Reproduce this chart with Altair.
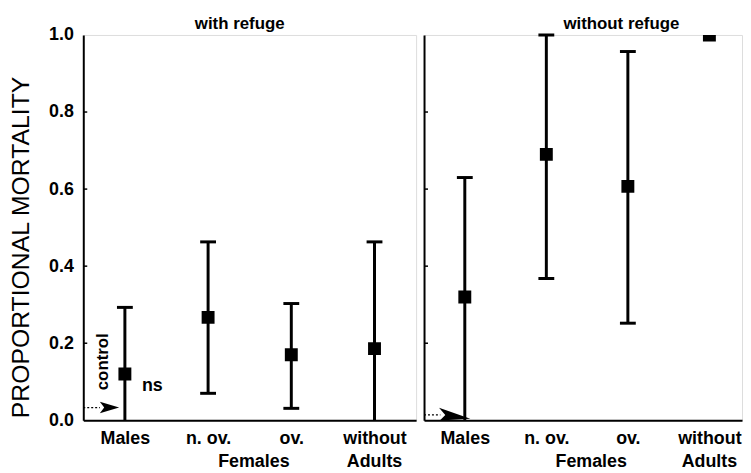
import altair as alt
import pandas as pd

categories = ["Males", "n. ov.", "ov.", "without"]
cat_pos = [0.5, 1.5, 2.5, 3.5]
sub_labels = ["Females", "Adults"]
sub_pos = [2.05, 3.5]
y_ticks = [0.0, 0.2, 0.4, 0.6, 0.8, 1.0]
panel_titles = ["with refuge", "without refuge"]
panel_title_pos = [1.88, 2.42]

with_mean = [0.12, 0.267, 0.17, 0.186]
with_low = [0.0, 0.07, 0.031, 0.0]
with_high = [0.293, 0.463, 0.303, 0.463]

without_mean = [0.32, 0.69, 0.607, 1.0]
without_low = [0.0, 0.368, 0.252, 1.0]
without_high = [0.63, 1.0, 0.957, 1.0]

FONT = "Liberation Sans"
ARROW_L = "M-1,-0.6L1,0L-1,0.6L-0.55,0Z"
ARROW_R = "M-1,-0.45L1,0.25L-0.95,0.35L-0.6,0Z"

label_expr = " : ".join(
    f"datum.value == {p} ? '{c}'" for p, c in zip(cat_pos, categories)
) + " : ''"

HEIGHT = 389


def panel(idx, means, lows, highs, width, xmax, left,
          ctrl_x, ctrl_y, ctrl_end, arrow_shape, arrow_size):
    df = pd.DataFrame({"pos": cat_pos, "cat": categories,
                       "mean": means, "low": lows, "high": highs})
    caps = pd.DataFrame(
        [{"pos": p, "v": h} for p, m, h in zip(cat_pos, means, highs) if h > m]
        + [{"pos": p, "v": l} for p, m, l in zip(cat_pos, means, lows) if 0 < l < m]
    )
    xs = alt.Scale(domain=[0, xmax], nice=False, zero=False)
    ys = alt.Scale(domain=[0, 1], nice=False)
    xaxis = alt.Axis(values=cat_pos, labelExpr=label_expr, title=None,
                     ticks=False, tickSize=0, grid=False, labelPadding=9,
                     labelFontSize=18, labelFontWeight="bold", labelFont=FONT,
                     labelColor="black", domainColor="black", domainWidth=2,
                     labelOverlap=False)
    if left:
        yaxis = alt.Axis(values=y_ticks, format=".1f",
                         title="PROPORTIONAL MORTALITY", grid=False,
                         ticks=False, tickSize=0,
                         labelPadding=10, labelFontSize=18, labelFontWeight="bold",
                         labelFont=FONT, labelColor="black",
                         titleFont=FONT, titleFontSize=25, titleFontWeight="normal",
                         titleColor="black", titlePadding=15, titleY=214,
                         domainColor="black", domainWidth=2)
    else:
        yaxis = alt.Axis(values=y_ticks, labels=False, title=None, grid=False,
                         ticks=False, tickSize=0,
                         domainColor="black", domainWidth=2)

    base = alt.Chart(df)
    bars = base.mark_rule(strokeWidth=3, color="black").encode(
        x=alt.X("pos:Q", scale=xs, axis=xaxis),
        y=alt.Y("low:Q", scale=ys, axis=yaxis),
        y2="high:Q",
    )
    cap = alt.Chart(caps).mark_tick(orient="horizontal", size=16, thickness=3,
                                    color="black", opacity=1).encode(
        x=alt.X("pos:Q", scale=xs), y=alt.Y("v:Q", scale=ys))
    pts = base.mark_square(size=170, color="black", opacity=1, clip=True).encode(
        x=alt.X("pos:Q", scale=xs), y=alt.Y("mean:Q", scale=ys))

    # small inward tick marks on the y axis
    tk = pd.DataFrame({"v": y_ticks[1:-1]})
    ticks = alt.Chart(tk).mark_rule(strokeWidth=1.5, color="black").encode(
        x=alt.value(0), x2=alt.value(4), y=alt.Y("v:Q", scale=ys))

    cdf = pd.DataFrame({"x0": [0.0], "x1": [ctrl_end], "y": [ctrl_y], "xa": [ctrl_x]})
    dots = alt.Chart(cdf).mark_rule(strokeDash=[2, 2], strokeWidth=1.3, color="black").encode(
        x=alt.X("x0:Q", scale=xs), x2="x1:Q", y=alt.Y("y:Q", scale=ys))
    arrow = alt.Chart(cdf).mark_point(shape=arrow_shape, size=arrow_size, filled=True,
                                      color="black", opacity=1).encode(
        x=alt.X("xa:Q", scale=xs), y=alt.Y("y:Q", scale=ys))

    sdf = pd.DataFrame({"pos": sub_pos, "t": sub_labels})
    sub = alt.Chart(sdf).mark_text(fontSize=18, fontWeight="bold", font=FONT,
                                   color="black", baseline="alphabetic").encode(
        x=alt.X("pos:Q", scale=xs), y=alt.value(HEIGHT + 47), text="t:N")

    tdf = pd.DataFrame({"pos": [panel_title_pos[idx]], "t": [panel_titles[idx]]})
    ttl = alt.Chart(tdf).mark_text(fontSize=17, fontWeight="bold", font=FONT,
                                   color="black", baseline="alphabetic").encode(
        x=alt.X("pos:Q", scale=xs), y=alt.value(-6), text="t:N")

    layers = [bars, cap, pts, ticks, dots, arrow, sub, ttl]
    if left:
        adf = pd.DataFrame({"x": [0.24, 0.83], "y": [0.152, 0.09],
                            "t": ["control", "ns"]})
        ctrl = alt.Chart(adf.iloc[[0]]).mark_text(
            angle=270, fontSize=17, fontWeight="bold", font=FONT, color="black",
            baseline="middle", align="center").encode(
            x=alt.X("x:Q", scale=xs), y=alt.Y("y:Q", scale=ys), text="t:N")
        ns = alt.Chart(adf.iloc[[1]]).mark_text(
            fontSize=18, fontWeight="bold", font=FONT, color="black",
            baseline="middle", align="center").encode(
            x=alt.X("x:Q", scale=xs), y=alt.Y("y:Q", scale=ys), text="t:N")
        layers += [ctrl, ns]

    return alt.layer(*layers).properties(width=width, height=HEIGHT)


left = panel(0, with_mean, with_low, with_high, 336, 4.0, True,
             0.315, 0.033, 0.2, ARROW_L, 380)
right = panel(1, without_mean, without_low, without_high, 321, 3.9, False,
              0.376, 0.014, 0.2, ARROW_R, 1000)

chart = alt.hconcat(left, right, spacing=5).properties(
    padding={"top": 4, "left": 0, "right": 0, "bottom": 0}
).configure_view(stroke=None).configure(background="white")

chart.save("out.html", embed_options={"renderer": "svg", "actions": False})
